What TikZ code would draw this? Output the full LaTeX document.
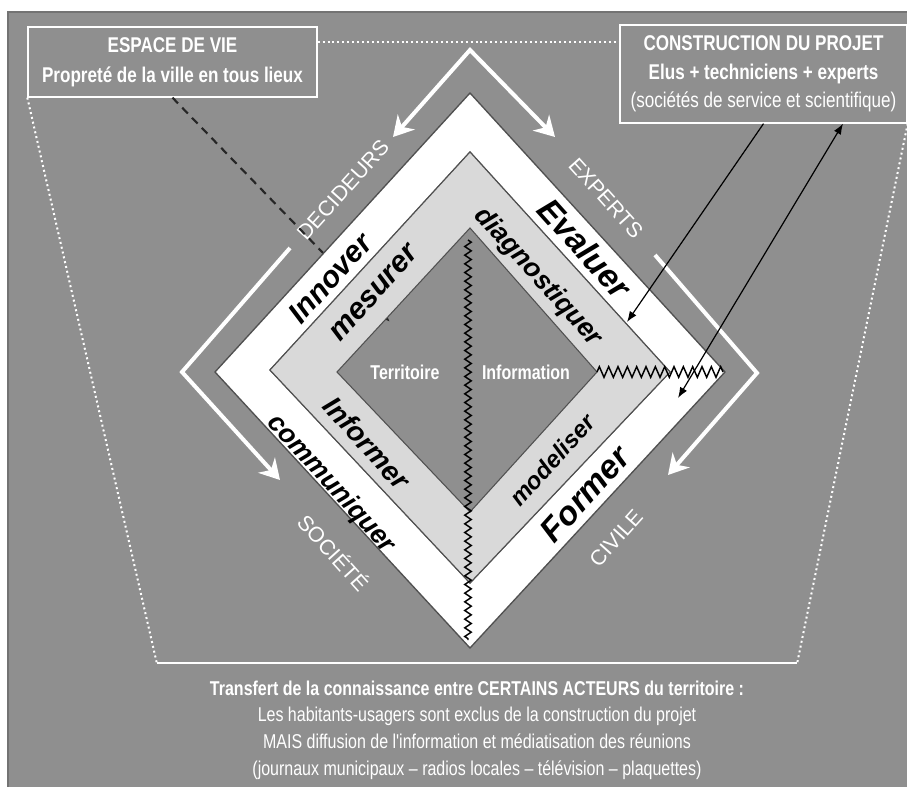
\documentclass[tikz,border=0pt]{standalone}
\usepackage{fontspec}
\setsansfont{Liberation Sans}
\newfontfamily\etroite[FakeStretch=0.8]{Liberation Sans}
\usetikzlibrary{arrows.meta,decorations.pathmorphing}

\definecolor{fond}{RGB}{143,143,143}
\definecolor{bande}{RGB}{217,217,217}
\definecolor{trait}{RGB}{80,80,80}
\newcommand\pxu{0.75pt}

\tikzset{
  cadre/.style={draw=white, line width=1pt, text=white, align=center,
    font=\etroite\bfseries\fontsize{16}{22.5}\selectfont},
  bas/.style={text=white, align=center,
    font=\etroite\fontsize{15}{20}\selectfont},
  acteur/.style={text=white, font=\sffamily\fontsize{16}{16}\selectfont},
  verbe/.style={text=black, font=\sffamily\bfseries\itshape\fontsize{#1}{#1}\selectfont},
  pole/.style={text=white, font=\etroite\bfseries\fontsize{15}{15}\selectfont},
  pointille/.style={white, line width=1.5pt, dash pattern=on 1.5pt off 2.2pt},
  tirets/.style={black!85, line width=1.6pt, dash pattern=on 6pt off 4.5pt,
    -{Latex[length=8pt,width=7pt]}},
  fleche/.style={white, line width=3pt, line join=miter,
    -{Stealth[length=15pt,width=17pt]}},
  lien/.style={black, line width=0.9pt, -{Latex[length=8pt,width=6pt]}},
  zig/.style={black, line width=1.1pt, decorate,
    decoration={zigzag, segment length=6.5pt, amplitude=2.4pt}},
  zigh/.style={black, line width=1.1pt, decorate,
    decoration={zigzag, segment length=7pt, amplitude=4pt}},
}

\begin{document}
\begin{tikzpicture}[x=0.75pt, y=-0.75pt]
\useasboundingbox (0,0) rectangle (907,787);
\fill[fond] (8,12) rectangle (907,787);
\draw[black!55, line width=1.5pt] (8,787) -- (8,12) -- (907,12);

% cadres
\node[cadre, minimum width=289*\pxu, minimum height=70*\pxu] (espace) at (172.5,62)
  {ESPACE DE VIE\\Propreté de la ville en tous lieux};
\node[cadre, minimum width=287*\pxu, minimum height=98*\pxu,
  font=\etroite\bfseries\fontsize{16}{21.5}\selectfont] (projet) at (763.5,74)
  {CONSTRUCTION DU PROJET\\Elus + techniciens + experts\\
   {\mdseries (sociétés de service et scientifique)}};
\node[bas, minimum width=640*\pxu, minimum height=134*\pxu] (transfert) at (477,730)
  {{\bfseries Transfert de la connaissance entre CERTAINS ACTEURS du territoire :}\\
   Les habitants-usagers sont exclus de la construction du projet\\
   MAIS diffusion de l'information et médiatisation des réunions\\
   (journaux municipaux – radios locales – télévision – plaquettes)};
\draw[white, line width=1.2pt] (transfert.north west) -- (transfert.north east);

% pointilles
\draw[pointille] (espace.east |- 0,42) -- (projet.west |- 0,42);
\draw[pointille] (espace.south west) -- (transfert.north west);
\draw[pointille] (projet.south east) -- (transfert.north east);

% acteurs
\node[acteur, rotate=48] (decideurs) at (343,190) {DECIDEURS};
\node[acteur, rotate=-48] (experts) at (606,198) {EXPERTS};
\node[acteur, rotate=-48] (societe) at (334,552) {SOCIÉTÉ};
\node[acteur, rotate=48] (civile) at (616,538) {CIVILE};

% fleche tiretee, passe sous les bandes
\coordinate (mesure) at (390,322);
\draw[tirets] (espace.south) -- (mesure);

% losanges
\filldraw[fill=white, draw=trait, line width=1pt, even odd rule]
  (470,93) -- (725,372) -- (470,648) -- (215,372) -- cycle
  (470,152) -- (670,372) -- (470,583) -- (270,370) -- cycle;
\filldraw[fill=bande, draw=trait, line width=0.8pt, even odd rule]
  (470,152) -- (670,372) -- (470,583) -- (270,370) -- cycle
  (470,228) -- (597,372) -- (470,512) -- (337,372) -- cycle;

% separations
\draw[zig] (468,240) -- (468,640);
\draw[zigh] (597,372) -- (723,372);

% verbes
\node[verbe=22.5, rotate=48] (innover) at (330,278) {Innover};
\node[verbe=22.5, rotate=48] (mesurer) at (374,293) {mesurer};
\node[verbe=25, rotate=-48] (evaluer) at (585,248) {Evaluer};
\node[verbe=20, rotate=-48] (diagnostiquer) at (538,277) {diagnostiquer};
\node[verbe=21, rotate=-48] (informer) at (367,443) {Informer};
\node[verbe=20, rotate=-48] (communiquer) at (331,484) {communiquer};
\node[verbe=18, rotate=48] (modeliser) at (552,460) {modeliser};
\node[verbe=25, rotate=48] (former) at (585,494) {Former};

\node[pole] (territoire) at (405,372) {Territoire};
\node[pole] (information) at (526,372) {Information};

% fleches blanches
\draw[fleche, {Stealth[length=15pt,width=17pt]}-{Stealth[length=15pt,width=17pt]}]
  (393,137) -- (470,50) -- (555,137);
\draw[fleche] (290,248) -- (182,372) -- (280,480);
\draw[fleche] (655,255) -- (757,373) -- (668,475);

% liens
\coordinate (evalpt) at (627,322);
\coordinate (formpt) at (678,398);
\draw[lien] (projet.south) -- (evalpt);
\draw[lien, {Latex[length=8pt,width=6pt]}-{Latex[length=8pt,width=6pt]}]
  (formpt) -- (projet.south -| 843,0);
\end{tikzpicture}
\end{document}
